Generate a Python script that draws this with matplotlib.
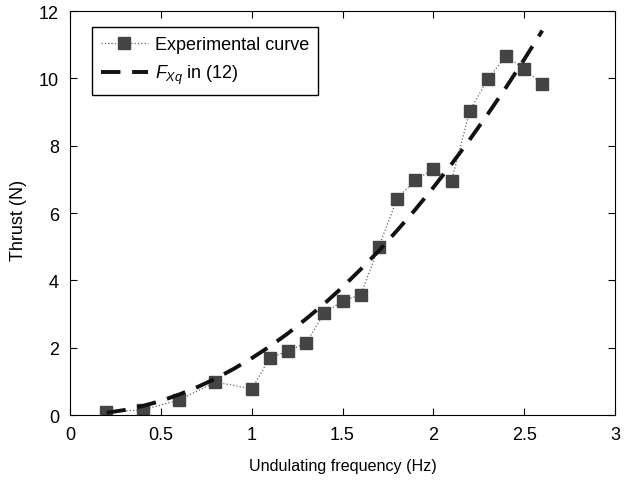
import matplotlib.pyplot as plt

plt.rcParams['font.family'] = ['Liberation Sans', 'DejaVu Sans']
plt.rcParams['mathtext.fontset'] = 'custom'
plt.rcParams['mathtext.it'] = 'Liberation Sans:italic'
plt.rcParams['mathtext.rm'] = 'Liberation Sans'

# experimental points
freq_exp = [0.2, 0.4, 0.6, 0.8, 1.0, 1.1, 1.2, 1.3, 1.4, 1.5, 1.6, 1.7,
            1.8, 1.9, 2.0, 2.1, 2.2, 2.3, 2.4, 2.5, 2.6]
thrust_exp = [0.1, 0.15, 0.45, 0.98, 0.78, 1.7, 1.9, 2.15, 3.03, 3.39, 3.57, 5.0,
              6.42, 6.98, 7.3, 6.95, 9.03, 9.98, 10.66, 10.28, 9.83]

# model curve F_Xq in (12)
freq_model = [0.2, 0.3, 0.4, 0.5, 0.6, 0.7, 0.8, 0.9, 1.0, 1.1, 1.2, 1.3, 1.4,
              1.5, 1.6, 1.7, 1.8, 1.9, 2.0, 2.1, 2.2, 2.3, 2.4, 2.5, 2.6]
thrust_model = [0.07, 0.15, 0.27, 0.42, 0.61, 0.83, 1.08, 1.37, 1.69, 2.04, 2.43,
                2.86, 3.31, 3.8, 4.33, 4.88, 5.48, 6.1, 6.76, 7.45, 8.18, 8.94,
                9.73, 10.56, 11.42]

fig = plt.figure(figsize=(6.32, 4.81), dpi=100)
ax = fig.add_axes([0.111, 0.135, 0.862, 0.84])

ax.plot(freq_exp, thrust_exp, linestyle=':', color='#666666', linewidth=0.9,
        marker='s', markersize=8.5, markerfacecolor='#444444',
        markeredgecolor='#444444', label='Experimental curve')
ax.plot(freq_model, thrust_model, linestyle=(0, (5, 3)), color='#111111',
        linewidth=2.8, label=r'$F_{Xq}$ in (12)')

ax.set_xlim(0, 3)
ax.set_ylim(0, 12)
ax.set_xticks([0, 0.5, 1, 1.5, 2, 2.5, 3])
ax.set_xticklabels(['0', '0.5', '1', '1.5', '2', '2.5', '3'])
ax.set_yticks([0, 2, 4, 6, 8, 10, 12])
ax.tick_params(direction='in', top=True, right=True, labelsize=13, length=5,
               pad=8)
ax.set_xlabel('Undulating frequency (Hz)', fontsize=11.6, labelpad=11)
ax.set_ylabel('Thrust (N)', fontsize=13)
ax.yaxis.set_label_coords(-0.08, 0.485)

leg = ax.legend(loc='upper left', fontsize=13, fancybox=False,
                edgecolor='black', framealpha=1, borderpad=0.5,
                numpoints=1, handlelength=2.6, handletextpad=0.4,
                labelspacing=0.55, borderaxespad=0,
                bbox_to_anchor=(0.04, 0.96))
leg.get_frame().set_linewidth(1)

fig.savefig('out.png', dpi=100)
